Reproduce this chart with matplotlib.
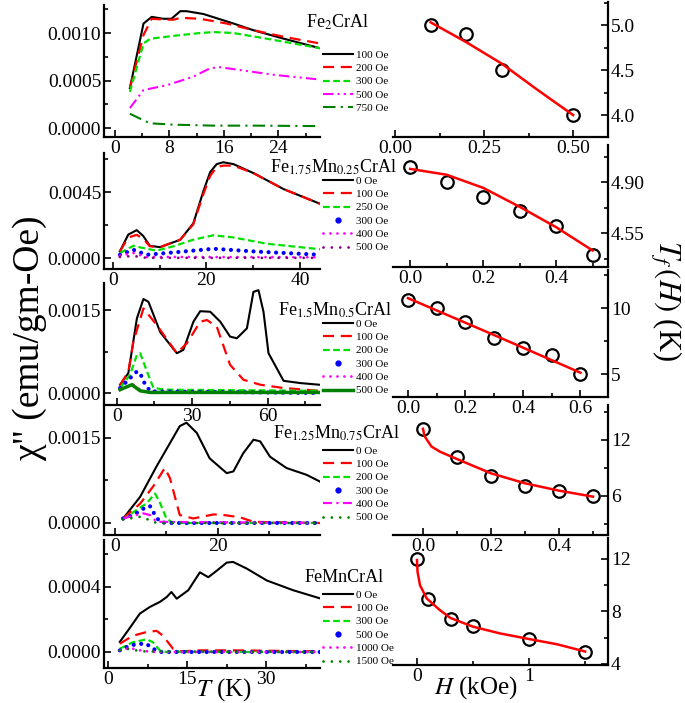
import matplotlib
matplotlib.use('Agg')
import matplotlib.pyplot as plt
from matplotlib.lines import Line2D
from matplotlib.ticker import MultipleLocator, FormatStrFormatter

plt.rcParams['font.family'] = ['Liberation Serif', 'DejaVu Serif']
plt.rcParams['mathtext.fontset'] = 'stix'

# ---------------- data: chi'' vs T ----------------
# Fe2CrAl
fe2_t_100 = [2.2, 4.2, 5.4, 7.1, 8.3, 9.6, 10.5, 13, 17.4, 20.3, 24.8, 30.1]
fe2_c_100 = [0.00042, 0.0011, 0.00117, 0.00115, 0.00115, 0.00123, 0.00123, 0.0012, 0.0011, 0.00103, 0.00094, 0.00084]
fe2_t_200 = [2.2, 4.2, 5.4, 7.6, 8.6, 9.6, 12.5, 16.4, 20.3, 24.8, 30.1]
fe2_c_200 = [0.00042, 0.00098, 0.00115, 0.00114, 0.00114, 0.00116, 0.00115, 0.0011, 0.00103, 0.00096, 0.00089]
fe2_t_300 = [2.2, 4.2, 5.2, 8.6, 12.5, 14.5, 17.4, 22.3, 30.1]
fe2_c_300 = [0.00038, 0.00089, 0.00094, 0.00097, 0.001, 0.00101, 0.001, 0.00094, 0.00084]
fe2_t_500 = [2.2, 4.2, 7.6, 11.5, 14.0, 15.4, 18.4, 23.3, 30.1]
fe2_c_500 = [0.00021, 0.0004, 0.00045, 0.00054, 0.00063, 0.00064, 0.00061, 0.00056, 0.00051]
fe2_t_750 = [2.2, 5.1, 8.6, 14.5, 20.3, 30.1]
fe2_c_750 = [0.00015, 0.00005, 0.000035, 0.000025, 0.000025, 0.00002]

# Fe1.75Mn0.25CrAl
m25_t_0 = [1.5, 3.3, 5.1, 6.5, 7.9, 10.1, 12.3, 14.4, 17.2, 19.4, 20.8, 22.2, 23.6, 25.8, 30, 36.5, 44.3]
m25_c_0 = [0.00045, 0.0016, 0.0019, 0.0015, 0.00083, 0.00074, 0.001, 0.00124, 0.00236, 0.0046, 0.00585, 0.0064, 0.00653, 0.0064, 0.0058, 0.0047, 0.0037]
m25_t_100 = [1.5, 3.3, 5.1, 6.5, 7.9, 10.1, 12.3, 14.4, 17.2, 19.4, 20.8, 22.2, 23.6, 25.8, 30, 36.5, 44.3]
m25_c_100 = [0.00045, 0.0014, 0.00158, 0.0013, 0.0008, 0.00074, 0.001, 0.00124, 0.0023, 0.0044, 0.0056, 0.0062, 0.0063, 0.0063, 0.0058, 0.0047, 0.0037]
m25_t_250 = [1.5, 4.4, 6.5, 9.3, 13, 17.2, 21.5, 25.8, 33, 44.3]
m25_c_250 = [0.00034, 0.00083, 0.00068, 0.0005, 0.0008, 0.00125, 0.00155, 0.0014, 0.00097, 0.0006]
m25_t_300 = [1.5, 4.4, 7.2, 13, 21.5, 30, 44.3]
m25_c_300 = [0.00022, 0.00056, 0.00022, 0.00038, 0.00063, 0.00045, 0.00022]
m25_t_400 = [1.5, 4.4, 7.2, 15.8, 44.3]
m25_c_400 = [0.00016, 0.00034, 0.00007, 0.00007, 0.00005]
m25_t_500 = [1.5, 4.4, 7.2, 44.3]
m25_c_500 = [0.00007, 0.00014, 0.00001, 0.00001]

# Fe1.5Mn0.5CrAl
m50_t_0 = [1.3, 4.6, 8.0, 10.6, 12.6, 17.3, 23.9, 26.5, 30.5, 33.2, 37.2, 41.2, 45.1, 47.8, 51.8, 54.4, 56.4, 58.4, 60.4, 66.4, 73, 80.5]
m50_c_0 = [0.00015, 0.00036, 0.00135, 0.0017, 0.00165, 0.0011, 0.00072, 0.00078, 0.00129, 0.00148, 0.00147, 0.00129, 0.00102, 0.00099, 0.00117, 0.00183, 0.00186, 0.00147, 0.00072, 0.00022, 0.00018, 0.00015]
m50_t_100 = [1.3, 4.6, 6.6, 10.6, 15.9, 23.9, 27.9, 33.2, 35.9, 39.8, 45.1, 50.4, 57.1, 66.4, 80.5]
m50_c_100 = [0.00014, 0.00039, 0.00093, 0.00153, 0.00123, 0.00072, 0.0009, 0.00129, 0.00132, 0.0012, 0.00051, 0.00024, 0.00015, 0.00009, 0.00004]
m50_t_200 = [1.3, 5.3, 8.0, 9.3, 12.0, 14.6, 19.9, 80.5]
m50_c_200 = [0.00009, 0.00033, 0.00069, 0.00072, 0.00039, 0.00009, 0.00006, 0.00004]
m50_t_300 = [1.3, 5.3, 8.0, 9.3, 10.6, 13.3, 80.5]
m50_c_300 = [0.00009, 0.00027, 0.00039, 0.00036, 0.00021, 0.00003, 0.0]
m50_t_400 = [1.3, 6.6, 9.3, 12.0, 80.5]
m50_c_400 = [0.00008, 0.00015, 0.00006, 0.00002, 0.0]
m50_t_500 = [1.3, 6.0, 9.3, 13.3, 80.5]
m50_c_500 = [0.00006, 0.00015, 0.00004, 0.00001, 0.00001]

# Fe1.25Mn0.75CrAl
m75_t_0 = [1.6, 4.9, 8.1, 10.7, 12.6, 13.9, 15.9, 18.4, 21.7, 23, 24.9, 26.9, 28.2, 30.1, 33.3, 37.2, 39.8]
m75_c_0 = [0.000077, 0.00046, 0.001, 0.00141, 0.00171, 0.00177, 0.00159, 0.00114, 0.00088, 0.00091, 0.00123, 0.00147, 0.00144, 0.00117, 0.00097, 0.00085, 0.00073]
m75_t_100 = [1.6, 4.9, 7.4, 9.7, 10.7, 12.6, 15.2, 19.1, 20.4, 24.3, 26.9, 39.8]
m75_c_100 = [0.00008, 0.00034, 0.00064, 0.00097, 0.00079, 0.00014, 0.00008, 0.00015, 0.00015, 0.0001, 0.00002, 0.0]
m75_t_200 = [1.6, 4.2, 6.1, 7.8, 8.7, 10.0, 11.3, 39.8]
m75_c_200 = [0.00006, 0.00023, 0.00034, 0.00052, 0.00037, 0.00008, 0.0, 0.0]
m75_t_300 = [1.6, 3.6, 5.5, 6.8, 7.4, 8.7, 10.0, 39.8]
m75_c_300 = [0.00008, 0.00014, 0.00025, 0.0003, 0.0002, 0.00002, 0.0, 0.0]
m75_t_400 = [1.6, 5.5, 6.8, 8.1, 39.8]
m75_c_400 = [0.00008, 0.00017, 0.00014, 0.00002, 0.0]
m75_t_500 = [1.6, 4.9, 6.8, 8.1, 39.8]
m75_c_500 = [0.00006, 0.00011, 0.00005, 0.0, 0.0]

# FeMnCrAl
m100_t_0 = [2.2, 4.1, 6.0, 7.9, 9.8, 11.1, 12.0, 13.0, 15.2, 17.4, 19.0, 20.6, 22.5, 23.7, 26.3, 30.1, 35.1, 40.2]
m100_c_0 = [0.000062, 0.000148, 0.000236, 0.000277, 0.000308, 0.000338, 0.000369, 0.000328, 0.00038, 0.00049, 0.00046, 0.0005, 0.00055, 0.000554, 0.000513, 0.00044, 0.00038, 0.00033]
m100_t_100 = [2.2, 4.7, 7.3, 9.2, 10.4, 12.3, 13.6, 17.4, 23.7, 40.2]
m100_c_100 = [0.000051, 0.0001, 0.000123, 0.00013, 0.0001, 0.00002, 0.000004, 0.00001, 0.00001, 0.000004]
m100_t_300 = [2.2, 4.7, 7.3, 8.5, 9.8, 11.1, 40.2]
m100_c_300 = [0.00002, 0.00006, 0.000078, 0.00006, 0.00001, 0.0, 0.0]
m100_t_500 = [2.2, 4.1, 6.0, 7.3, 8.2, 9.8, 40.2]
m100_c_500 = [0.00001, 0.00004, 0.00005, 0.00005, 0.000025, 0.0, 0.0]
m100_t_1000 = [2.2, 4.1, 6.0, 8.5, 40.2]
m100_c_1000 = [0.00001, 0.000025, 0.00001, 0.0, 0.0]
m100_t_1500 = [2.2, 4.1, 6.0, 40.2]
m100_c_1500 = [0.00001, 0.00002, 0.000004, 0.0]

# ---------------- data: Tf vs H ----------------
r1_h = [0.1, 0.2, 0.3, 0.5]
r1_tf = [5.0, 4.9, 4.5, 4.0]
r1_fit_h = [0.1, 0.2, 0.3, 0.4, 0.5]
r1_fit = [5.03, 4.81, 4.57, 4.28, 4.0]

r2_h = [0.0, 0.1, 0.2, 0.3, 0.4, 0.5]
r2_tf = [5.0, 4.9, 4.8, 4.7, 4.6, 4.4]
r2_fit_h = [0.0, 0.1, 0.2, 0.3, 0.4, 0.5]
r2_fit = [4.99, 4.95, 4.86, 4.73, 4.59, 4.43]

r3_h = [0.0, 0.1, 0.2, 0.3, 0.4, 0.5, 0.6]
r3_tf = [10.6, 10.0, 8.94, 7.73, 6.97, 6.44, 5.0]
r3_fit_h = [0.0, 0.3, 0.6]
r3_fit = [10.75, 7.95, 5.1]

r4_h = [0.0, 0.1, 0.2, 0.3, 0.4, 0.5]
r4_tf = [13.2, 10.2, 8.14, 7.07, 6.54, 6.0]
r4_fit_h = [0.0, 0.005, 0.025, 0.05, 0.1, 0.2, 0.3, 0.4, 0.5]
r4_fit = [13.2, 12.4, 11.3, 10.75, 9.96, 8.43, 7.36, 6.57, 5.93]

r5_h = [0.0, 0.1, 0.3, 0.5, 1.0, 1.5]
r5_tf = [12.0, 8.95, 7.43, 6.87, 5.9, 4.9]
r5_fit_h = [0.0, 0.005, 0.027, 0.086, 0.205, 0.3, 0.5, 0.74, 1.0, 1.25, 1.5]
r5_fit = [11.92, 11.03, 10.0, 9.0, 8.1, 7.5, 6.84, 6.33, 5.9, 5.5, 4.95]

# ---------------- styles ----------------
BLACK = dict(color='black', lw=1.5)
RED = dict(color='red', lw=1.6, ls=(0, (5, 3)))
GREEN = dict(color='#00e000', lw=1.6, ls=(0, (3, 1.6)))
BLUE = dict(color='blue', lw=3, ls=(0, (0.01, 1.8)), dash_capstyle='round')
MAG_DDOT = dict(color='magenta', lw=1.5, ls=(0, (5, 2, 1, 2, 1, 2)))
MAG_DOT = dict(color='magenta', lw=2, ls=(0, (0.01, 2.5)), dash_capstyle='round')
MAG_DASHDOT = dict(color='magenta', lw=1.6, ls=(0, (4, 2, 1, 2)))
DKG_DASHDOT = dict(color='#008000', lw=1.5, ls=(0, (6, 2.5, 1, 2.5)))
DKG_SOLID = dict(color='#008000', lw=2.5)
DKG_DOT = dict(color='#008000', lw=2, ls=(0, (0.01, 3)), dash_capstyle='round')
PUR_DOT = dict(color='#800080', lw=2, ls=(0, (0.01, 3)), dash_capstyle='round')

W, H = 685, 703


def box(x0, y0, x1, y1):
    # pixel box (origin top-left) -> figure rect
    return [x0 / W, 1 - y1 / H, (x1 - x0) / W, (y1 - y0) / H]


def style_ax(ax, side, xmaj, xfmt, ymaj, yfmt):
    ax.patch.set_visible(False)
    ax.spines['top'].set_visible(False)
    ax.spines['right' if side == 'left' else 'left'].set_visible(False)
    for s in ('left', 'right', 'bottom'):
        ax.spines[s].set_linewidth(1.6)
    if side == 'right':
        ax.yaxis.tick_right()
    ax.xaxis.set_major_locator(MultipleLocator(xmaj))
    ax.xaxis.set_minor_locator(MultipleLocator(xmaj / 2))
    ax.yaxis.set_major_locator(MultipleLocator(ymaj))
    ax.yaxis.set_minor_locator(MultipleLocator(ymaj / 2))
    ax.xaxis.set_major_formatter(FormatStrFormatter(xfmt))
    ax.yaxis.set_major_formatter(FormatStrFormatter(yfmt))
    ax.tick_params(which='both', direction='in', width=1.2, labelsize=14, pad=2)
    ax.tick_params(which='major', length=5)
    ax.tick_params(which='minor', length=3)


fig = plt.figure(figsize=(6.85, 7.03), dpi=100)

left_panels = [
    dict(rect=(104, 5, 320, 137), xlim=(-1.6, 30.1), ylim=(-0.0000947, 0.001295),
         xmaj=8, ymaj=0.0005, name='Fe$_2$CrAl', name_xy=(306, 22), leg_y=50,
         series=[(fe2_t_100, fe2_c_100, '100 Oe', BLACK),
                 (fe2_t_200, fe2_c_200, '200 Oe', RED),
                 (fe2_t_300, fe2_c_300, '300 Oe', GREEN),
                 (fe2_t_500, fe2_c_500, '500 Oe', MAG_DDOT),
                 (fe2_t_750, fe2_c_750, '750 Oe', DKG_DASHDOT)]),
    dict(rect=(104, 153, 320, 269), xlim=(-1.9, 44.3), ylim=(-0.00075, 0.00716),
         xmaj=20, ymaj=0.0045, name='Fe$_{1.75}$Mn$_{0.25}$CrAl', name_xy=(270, 167), leg_y=176,
         series=[(m25_t_0, m25_c_0, '0 Oe', BLACK),
                 (m25_t_100, m25_c_100, '100 Oe', RED),
                 (m25_t_250, m25_c_250, '250 Oe', GREEN),
                 (m25_t_300, m25_c_300, '300 Oe', BLUE),
                 (m25_t_400, m25_c_400, '400 Oe', MAG_DOT),
                 (m25_t_500, m25_c_500, '500 Oe', PUR_DOT)]),
    dict(rect=(104, 283, 320, 405), xlim=(-5.1, 80.9), ylim=(-0.000217, 0.00199),
         xmaj=30, ymaj=0.0015, name='Fe$_{1.5}$Mn$_{0.5}$CrAl', name_xy=(278, 310), leg_y=319,
         series=[(m50_t_0, m50_c_0, '0 Oe', BLACK),
                 (m50_t_100, m50_c_100, '100 Oe', RED),
                 (m50_t_200, m50_c_200, '200 Oe', GREEN),
                 (m50_t_300, m50_c_300, '300 Oe', BLUE),
                 (m50_t_400, m50_c_400, '400 Oe', MAG_DOT),
                 (m50_t_500, m50_c_500, '500 Oe', DKG_SOLID)]),
    dict(rect=(104, 407, 320, 535), xlim=(-2.1, 39.8), ylim=(-0.000212, 0.002047),
         xmaj=20, ymaj=0.0015, name='Fe$_{1.25}$Mn$_{0.75}$CrAl', name_xy=(273, 433), leg_y=446,
         series=[(m75_t_0, m75_c_0, '0 Oe', BLACK),
                 (m75_t_100, m75_c_100, '100 Oe', RED),
                 (m75_t_200, m75_c_200, '200 Oe', GREEN),
                 (m75_t_300, m75_c_300, '300 Oe', BLUE),
                 (m75_t_400, m75_c_400, '400 Oe', MAG_DASHDOT),
                 (m75_t_500, m75_c_500, '500 Oe', DKG_DOT)]),
    dict(rect=(104, 540, 320, 668), xlim=(-0.8, 40.2), ylim=(-0.0000985, 0.000689),
         xmaj=15, ymaj=0.0004, name='FeMnCrAl', name_xy=(305, 578), leg_y=590,
         series=[(m100_t_0, m100_c_0, '0 Oe', BLACK),
                 (m100_t_100, m100_c_100, '100 Oe', RED),
                 (m100_t_300, m100_c_300, '300 Oe', GREEN),
                 (m100_t_500, m100_c_500, '500 Oe', BLUE),
                 (m100_t_1000, m100_c_1000, '1000 Oe', MAG_DOT),
                 (m100_t_1500, m100_c_1500, '1500 Oe', DKG_DOT)]),
]

for p in left_panels:
    ax = fig.add_axes(box(*p['rect']))
    handles = []
    for t, c, lab, st in p['series']:
        line, = ax.plot(t, c, label=lab, **st)
        if st is BLUE:
            # the reference shows a single dot as the key for the dotted blue series
            line = Line2D([], [], ls='none', marker='o', ms=3.5, color='blue', label=lab)
        handles.append(line)
    ax.set_xlim(*p['xlim'])
    ax.set_ylim(*p['ylim'])
    style_ax(ax, 'left', p['xmaj'], '%d', p['ymaj'], '%.4f')
    ax.legend(handles=handles, loc='upper left', bbox_to_anchor=(323 / W, 1 - p['leg_y'] / H),
              bbox_transform=fig.transFigure, frameon=False, fontsize=8,
              handlelength=2.7, handletextpad=0.3, labelspacing=0.32,
              borderpad=0, borderaxespad=0)
    fig.text(p['name_xy'][0] / W, 1 - p['name_xy'][1] / H, p['name'],
             fontsize=13, ha='left', va='center')

right_panels = [
    dict(rect=(393, 2, 608, 137), xlim=(-0.0056, 0.598), ylim=(3.756, 5.256),
         xmaj=0.25, xfmt='%.2f', ymaj=0.5, yfmt='%.1f',
         pts=(r1_h, r1_tf), fit=(r1_fit_h, r1_fit)),
    dict(rect=(393, 145, 608, 267), xlim=(-0.047, 0.542), ylim=(4.317, 5.154),
         xmaj=0.2, xfmt='%.1f', ymaj=0.35, yfmt='%.2f',
         pts=(r2_h, r2_tf), fit=(r2_fit_h, r2_fit)),
    dict(rect=(393, 270, 608, 397), xlim=(-0.052, 0.696), ylim=(3.26, 12.88),
         xmaj=0.2, xfmt='%.1f', ymaj=5, yfmt='%d',
         pts=(r3_h, r3_tf), fit=(r3_fit_h, r3_fit)),
    dict(rect=(393, 405, 608, 535), xlim=(-0.088, 0.544), ylim=(1.82, 15.75),
         xmaj=0.2, xfmt='%.1f', ymaj=6, yfmt='%d',
         pts=(r4_h, r4_tf), fit=(r4_fit_h, r4_fit)),
    dict(rect=(393, 538, 608, 665), xlim=(-0.214, 1.705), ylim=(3.92, 13.6),
         xmaj=1, xfmt='%d', ymaj=4, yfmt='%d',
         pts=(r5_h, r5_tf), fit=(r5_fit_h, r5_fit)),
]

for p in right_panels:
    ax = fig.add_axes(box(*p['rect']))
    ax.plot(*p['pts'], ls='none', marker='o', ms=9, mfc='none', mec='black', mew=1.6)
    ax.plot(*p['fit'], color='red', lw=1.8)
    ax.set_xlim(*p['xlim'])
    ax.set_ylim(*p['ylim'])
    style_ax(ax, 'right', p['xmaj'], p['xfmt'], p['ymaj'], p['yfmt'])

fig.text(30 / W, 1 - 338 / H, 'χ" (emu/gm-Oe)', fontsize=27, rotation=90,
         ha='center', va='center')
fig.text(666 / W, 1 - 300 / H, r'$T_f\,(H)$ (K)', fontsize=22, rotation=270,
         ha='center', va='center')
fig.text(224 / W, 1 - 690 / H, r'$T$ (K)', fontsize=18, ha='center', va='center')
fig.text(476 / W, 1 - 688 / H, r'$H$ (kOe)', fontsize=18, ha='center', va='center')

fig.savefig('out.png', dpi=100)
